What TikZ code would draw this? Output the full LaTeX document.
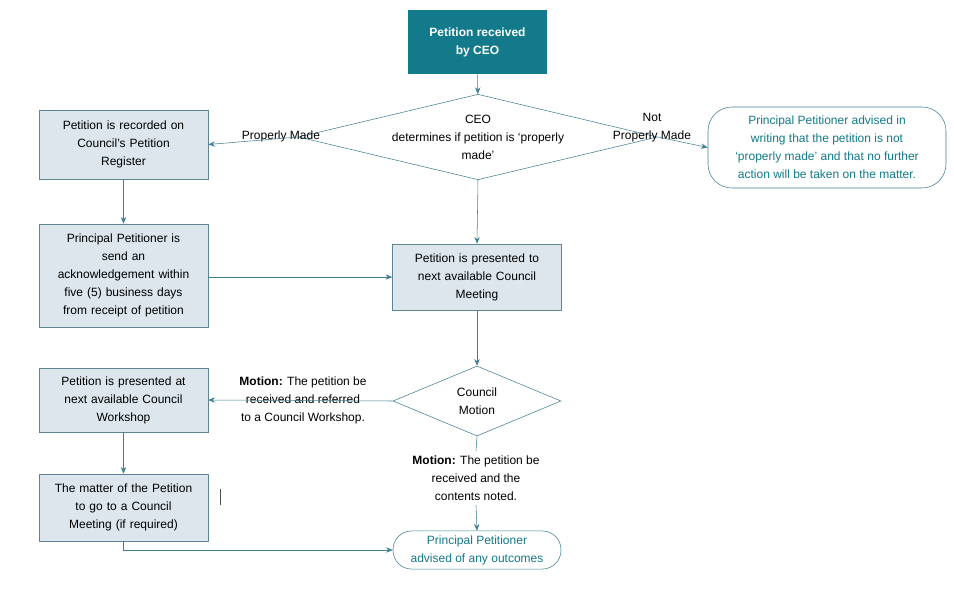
\documentclass[tikz,border=0pt]{standalone}
\usepackage{fontspec}
\setmainfont{Liberation Sans}
\usetikzlibrary{shapes.geometric,arrows.meta}
\definecolor{teal1}{HTML}{127A8A}
\definecolor{boxfill}{HTML}{DCE6EC}
\definecolor{boxline}{HTML}{5F8494}
\definecolor{arr}{HTML}{3F7F91}
\begin{document}
\begin{tikzpicture}[x=0.75pt,y=-0.75pt,
  every node/.style={font=\fontsize{9}{13.5}\selectfont,align=center},
  box/.style={draw=boxline,fill=boxfill,minimum width=126.75pt,inner sep=2pt,text width=120pt},
  dia/.style={diamond,draw=arr,fill=white,aspect=4.2,inner sep=0pt},
  rnd/.style={draw=arr,rounded corners=18pt,fill=white,text=teal1},
  ar/.style={draw=arr,-{Stealth[length=5pt,width=4pt]}}]
\useasboundingbox (0,0) rectangle (954,593);
\node[fill=teal1,text=white,font=\fontsize{9}{13.5}\selectfont\bfseries,minimum width=104.25pt,minimum height=48pt] (top) at (477.5,42) {Petition received\\by CEO};
\node[dia,minimum width=182pt,minimum height=43.5pt] (ceo) at (478,137) {CEO\\determines if petition is ‘properly\\made’};
\node[box,minimum height=51.75pt] (reg) at (123.5,144.5) {Petition is recorded on\\Council’s Petition\\Register};
\node[rnd,minimum width=178.5pt,minimum height=60.75pt] (np) at (827,147.5) {Principal Petitioner advised in\\writing that the petition is not\\‘properly made’ and that no further\\action will be taken on the matter.};
\node[box,minimum height=77.25pt] (ack) at (123.5,275.5) {Principal Petitioner is\\send an\\acknowledgement within\\five (5) business days\\from receipt of petition};
\node[box,minimum height=49.5pt] (pres) at (477,277) {Petition is presented to\\next available Council\\Meeting};
\node[dia,minimum width=126pt,minimum height=52.5pt] (mot) at (477,401) {Council\\Motion};
\node[box,minimum height=48pt] (ws) at (123.5,400) {Petition is presented at\\next available Council\\Workshop};
\node[box,minimum height=50.25pt] (cm) at (123.5,507.5) {The matter of the Petition\\to go to a Council\\Meeting (if required)};
\node[rnd,minimum width=126pt,minimum height=28.5pt,rounded corners=14pt] (out) at (477,550) {Principal Petitioner\\advised of any outcomes};
\node (l1) at (281,136) {Properly Made};
\node (l2) at (652,128) {Not\\Properly Made};
\node (l3) at (303,400) {\textbf{Motion:} The petition be\\received and referred\\to a Council Workshop.};
\node[fill=white] (l4) at (476,478) {\textbf{Motion:} The petition be\\received and the\\contents noted.};
\coordinate (bar1) at (220,489); \coordinate (bar2) at (220,505);
\draw[black!70] (bar1) -- (bar2);
\draw[ar] (top) -- (ceo);
\draw[ar] (ceo.west) -- (reg.east);
\draw[ar] (ceo.east) -- (np.west);
\draw[ar] (ceo.south) -- (pres.north);
\draw[ar] (reg) -- (ack);
\draw[ar] (ack.east |- pres.west) -- (pres.west);
\draw[ar] (pres) -- (mot);
\draw[ar] (mot.west) -- (ws.east);
\draw[ar] (ws) -- (cm);
\draw[draw=arr] (mot.south) -- (l4.north);
\draw[ar] (l4.south) -- (out.north);
\draw[ar] (cm.south) |- (out.west);
\end{tikzpicture}
\end{document}
